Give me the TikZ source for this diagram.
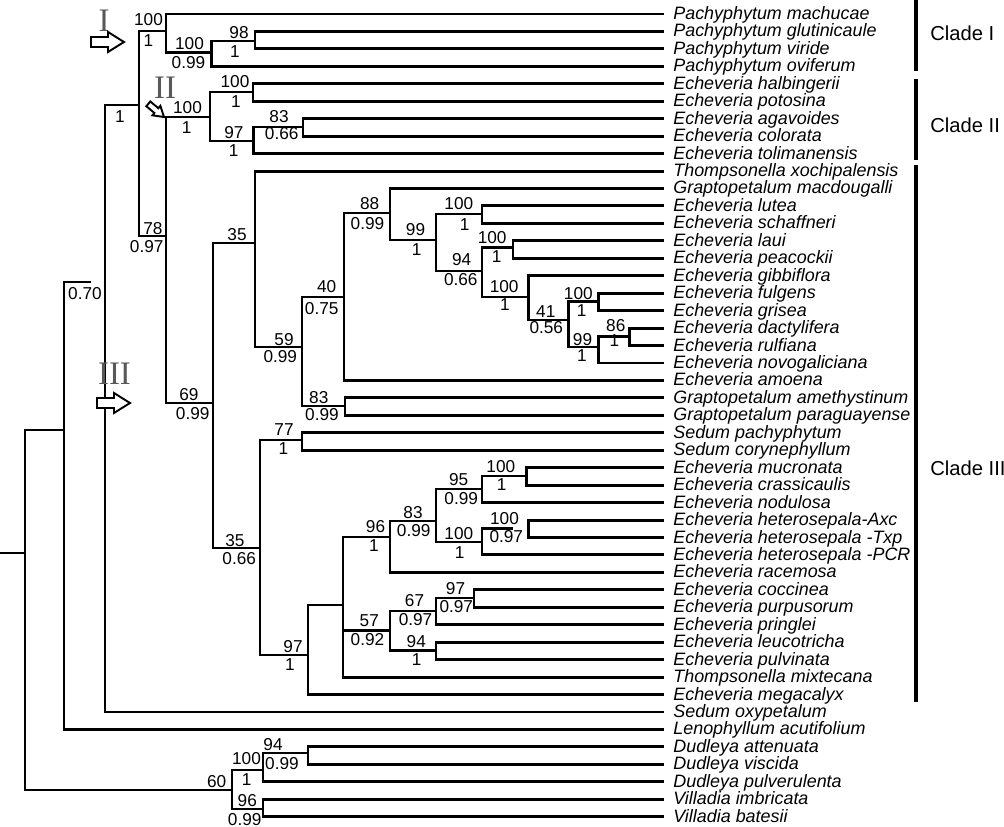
\documentclass[tikz,border=0pt]{standalone}
\usepackage{fontspec}
\setmainfont{Liberation Sans}
\newfontfamily\romanfont{Liberation Serif}
\tikzset{
  branch/.style={line width=1.7pt, line cap=rect},
  taxon/.style={anchor=base west, inner sep=0pt, font=\fontsize{10.2}{11}\selectfont\itshape},
  supp/.style={inner sep=0pt, font=\fontsize{9.8}{11}\selectfont},
  cladebar/.style={line width=1.8pt},
  cladename/.style={anchor=west, inner sep=0pt, font=\fontsize{11.5}{13}\selectfont},
  roman/.style={inner sep=0pt, text=black!65, font=\romanfont\fontsize{18.7}{20}\selectfont},
  pics/cladearrow/.style={code={
    \draw[line width=1.1pt, fill=white] (-33,-5) -- (-16,-5) -- (-16,-10) -- (0,0)
      -- (-16,10) -- (-16,5) -- (-33,5) -- cycle;}}
}

\begin{document}
\begin{tikzpicture}[x=0.02cm, y=-0.02cm]
  % tree, Echeveria and relatives
  \useasboundingbox (0,0) rectangle (1004,827);

  \foreach \name [count=\i] in {Pachyphytum machucae, Pachyphytum glutinicaule,
      Pachyphytum viride, Pachyphytum oviferum, Echeveria halbingerii, Echeveria potosina,
      Echeveria agavoides, Echeveria colorata, Echeveria tolimanensis,
      Thompsonella xochipalensis, Graptopetalum macdougalli, Echeveria lutea,
      Echeveria schaffneri, Echeveria laui, Echeveria peacockii, Echeveria gibbiflora,
      Echeveria fulgens, Echeveria grisea, Echeveria dactylifera, Echeveria rulfiana,
      Echeveria novogaliciana, Echeveria amoena, Graptopetalum amethystinum,
      Graptopetalum paraguayense, Sedum pachyphytum, Sedum corynephyllum,
      Echeveria mucronata, Echeveria crassicaulis, Echeveria nodulosa,
      Echeveria heterosepala-Axc, Echeveria heterosepala -Txp, Echeveria heterosepala -PCR,
      Echeveria racemosa, Echeveria coccinea, Echeveria purpusorum, Echeveria pringlei,
      Echeveria leucotricha, Echeveria pulvinata, Thompsonella mixtecana,
      Echeveria megacalyx, Sedum oxypetalum, Lenophyllum acutifolium, Dudleya attenuata,
      Dudleya viscida, Dudleya pulverulenta, Villadia imbricata, Villadia batesii} {
    \pgfmathsetmacro\ly{14+(\i-1)*17.45}
    \coordinate (t\i) at (662,\ly);
    \node[taxon] (l\i) at (673,{\ly+5.5}) {\name};
  }

  \coordinate (nI3) at (255,41);
  \coordinate (nI2) at (211.7,52.5);
  \coordinate (nI) at (166,31);
  \coordinate (nII2) at (253,92);
  \coordinate (nII4) at (303,127);
  \coordinate (nII3) at (253.5,141);
  \coordinate (nII) at (210,117);
  \coordinate (n86) at (629,336.5);
  \coordinate (n99b) at (598,347);
  \coordinate (n100d) at (598,301.5);
  \coordinate (n41) at (568,320);
  \coordinate (n100c) at (528,297);
  \coordinate (n100b) at (513,247.5);
  \coordinate (n94) at (482,271);
  \coordinate (n100a) at (482,214);
  \coordinate (n99a) at (436,240);
  \coordinate (n88) at (390,213);
  \coordinate (n40) at (344,297);
  \coordinate (n83a) at (345,406);
  \coordinate (n59) at (302,347);
  \coordinate (n35a) at (255,243);
  \coordinate (n77) at (302,440);
  \coordinate (n100e) at (526,476);
  \coordinate (n95) at (482,489);
  \coordinate (n100g) at (528,528.3);
  \coordinate (gap) at (512,528.3);
  \coordinate (n100f) at (482,542);
  \coordinate (n83b) at (436,521);
  \coordinate (n96) at (390,537);
  \coordinate (n97d) at (474,598);
  \coordinate (n67) at (436,611);
  \coordinate (n94b) at (436,650.4);
  \coordinate (n57) at (390,630.7);
  \coordinate (npoly) at (343,605);
  \coordinate (n97c) at (308,655);
  \coordinate (n35b) at (260,548);
  \coordinate (n69) at (213,403);
  \coordinate (n78) at (166,236);
  \coordinate (n139) at (139,105);
  \coordinate (n105) at (105,282);
  \coordinate (cut) at (90,282);
  \coordinate (n64) at (64,430);
  \coordinate (n94c) at (308,753);
  \coordinate (n100h) at (263,770);
  \coordinate (n96c) at (263,809);
  \coordinate (n60) at (232,790);
  \coordinate (root) at (25,553);
  \coordinate (stub) at (0,553);

  \begin{scope}[branch]
    \draw (t2) -| (nI3) |- (t3);
    \draw (nI3) -| (nI2) |- (t4);
    \draw (t1) -| (nI) |- (nI2);
    \draw (t5) -| (nII2) |- (t6);
    \draw (t7) -| (nII4) |- (t8);
    \draw (nII4) -| (nII3) |- (t9);
    \draw (nII2) -| (nII) |- (nII3);
    \draw (t19) -| (n86) |- (t20);
    \draw (n86) -| (n99b) |- (t21);
    \draw (t17) -| (n100d) |- (t18);
    \draw (n100d) -| (n41) |- (n99b);
    \draw (t16) -| (n100c) |- (n41);
    \draw (t14) -| (n100b) |- (t15);
    \draw (n100b) -| (n94) |- (n100c);
    \draw (t12) -| (n100a) |- (t13);
    \draw (n100a) -| (n99a) |- (n94);
    \draw (t11) -| (n88) |- (n99a);
    \draw (n88) -| (n40) |- (t22);
    \draw (t23) -| (n83a) |- (t24);
    \draw (n40) -| (n59) |- (n83a);
    \draw (t10) -| (n35a) |- (n59);
    \draw (t25) -| (n77) |- (t26);
    \draw (t27) -| (n100e) |- (t28);
    \draw (n100e) -| (n95) |- (t29);
    \draw (t30) -| (n100g) |- (t31);
    \draw (gap) -| (n100f) |- (t32);
    \draw (n95) -| (n83b) |- (n100f);
    \draw (n83b) -| (n96) |- (t33);
    \draw (t34) -| (n97d) |- (t35);
    \draw (n97d) -| (n67) |- (t36);
    \draw (t37) -| (n94b) |- (t38);
    \draw (n67) -| (n57) |- (n94b);
    \draw (n96) -| (npoly) |- (t39);
    \draw (n57) -| (npoly);
    \draw (npoly) -| (n97c) |- (t40);
    \draw (n77) -| (n35b) |- (n97c);
    \draw (n35a) -| (n69) |- (n35b);
    \draw (nII) -| (n78) |- (n69);
    \draw (nI) -| (n139) |- (n78);
    \draw (n139) -| (n105) |- (t41);
    \draw (cut) -| (n64) |- (t42);
    \draw (t43) -| (n94c) |- (t44);
    \draw (n94c) -| (n100h) |- (t45);
    \draw (t46) -| (n96c) |- (t47);
    \draw (n100h) -| (n60) |- (n96c);
    \draw (n64) -| (root) |- (n60);
    \draw (stub) -- (root);
  \end{scope}

  % bootstrap / posterior values
  \foreach \x/\y/\v [count=\k] in {148.5/19.7/100, 148.3/41/1, 189.5/43.5/100, 188.5/63/0.99,
      239/33/98, 235/52/1, 187.5/108/100, 186.7/128/1, 235/81.7/100, 236/101.7/1,
      234/133/97, 233.7/151/1, 279/116.7/83, 281.7/134/0.66, 120/117/1,
      153/228.3/78, 146.7/247/0.97, 85/294/0.70, 189/395/69, 192.7/413.3/0.99,
      237/235/35, 284/339.7/59, 280.3/356.3/0.99, 326.7/286.3/40, 321.7/308.3/0.75,
      369.7/204/88, 367.5/223.7/0.99, 415.5/230/99, 416.7/250/1, 458.8/204/100,
      464.7/224.5/1, 461.7/260/94, 460.8/280/0.66, 492.2/237.3/100, 496.7/256.7/1,
      504.2/286.3/100, 505/304.5/1, 545.8/311.7/41, 546.3/327.8/0.56,
      578.3/293.3/100, 581.7/310.8/1, 582.5/339.7/99, 582/355.5/1, 615.8/325.8/86,
      614.5/340.2/1, 318.8/397.8/83, 322/415/0.99, 284/430/77, 283.3/448.3/1,
      235/540.3/35, 239.2/558.3/0.66, 293/646.3/97, 290/665/1, 375.5/527/96,
      374/545.5/1, 413/512.2/83, 413.7/530.7/0.99, 458.7/479.3/95, 461.2/498.3/0.99,
      500.8/466.3/100, 501.7/484.5/1, 458.8/534/100, 459.7/552.2/1,
      504.5/518.3/100, 506.3/536.7/0.97, 369.3/620.7/57, 367.5/640/0.92,
      414.5/600.7/67, 415.5/620/0.97, 455.5/588.3/97, 456.3/606.3/0.97,
      416.3/641.7/94, 416.7/659.7/1, 216.7/781.7/60, 246.5/758.3/100, 246.7/780/1,
      273/745/94, 282/763.3/0.99, 247.3/800.7/96, 244.7/820/0.99}
    \node[supp] (s\k) at (\x,\y) {\v};

  % clades
  \coordinate (barItop) at (916,0);
  \coordinate (barIbot) at (916,71);
  \coordinate (barIItop) at (916,79);
  \coordinate (barIIbot) at (916,160);
  \coordinate (barIIItop) at (916,165);
  \coordinate (barIIIbot) at (916,702);
  \draw[cladebar] (barItop) -- (barIbot);
  \draw[cladebar] (barIItop) -- (barIIbot);
  \draw[cladebar] (barIIItop) -- (barIIIbot);
  \node[cladename] (cladeI) at (930,33) {Clade I};
  \node[cladename] (cladeII) at (930,125) {Clade II};
  \node[cladename] (cladeIII) at (930,468) {Clade III};

  \node[roman] (romI) at (104,21) {I};
  \node[roman] (romII) at (165,87.5) {II};
  \node[roman] (romIII) at (114.5,373.5) {III};
  \pic at (124,42) {cladearrow};
  \pic[rotate=-40, scale=0.62] at (164,117) {cladearrow};
  \pic at (130,403) {cladearrow};
\end{tikzpicture}
\end{document}
